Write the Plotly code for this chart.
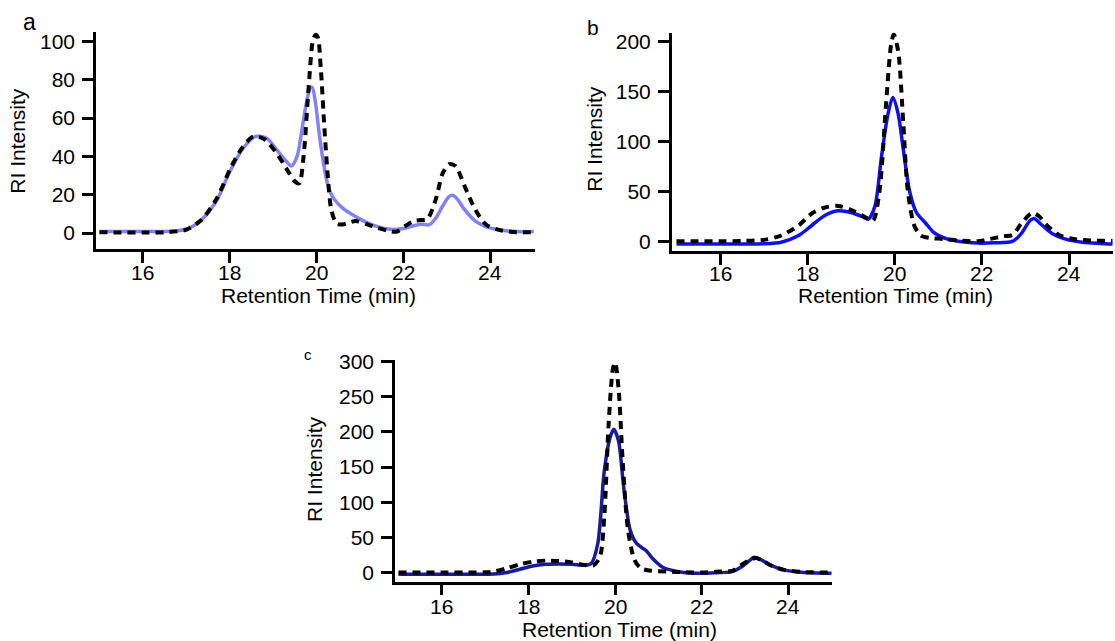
import plotly.graph_objects as go

# ---- panel a ----
a_t_dash = [15.0, 15.5, 16.0, 16.5, 17.0, 17.35, 17.7, 18.0, 18.3, 18.55, 18.8, 19.1, 19.35, 19.5,
            19.6, 19.7, 19.82, 19.92, 19.98, 20.03, 20.1, 20.18, 20.26, 20.34, 20.46, 20.6, 20.75,
            20.9, 21.15, 21.4, 21.7, 21.85, 22.05, 22.25, 22.4, 22.55, 22.75, 22.9, 23.05, 23.2,
            23.4, 23.65, 23.9, 24.2, 24.6, 25.0]
a_dash = [0.5, 0.3, 0.3, 0.4, 1.8, 7, 18, 33, 45, 50.5, 49, 41, 32, 27,
          26, 40, 77, 101, 103.5, 102, 85, 55, 29, 12, 5, 4.5, 5.5,
          6.3, 4.7, 2.7, 1.0, 0.8, 3.8, 6.4, 6.8, 7.3, 18, 31, 36, 35,
          25, 12.5, 4.5, 1.7, 0.5, 0.5]
a_t_solid = [15.0, 15.5, 16.0, 16.5, 17.0, 17.35, 17.7, 18.0, 18.3, 18.6, 18.85, 19.1, 19.3, 19.42,
             19.55, 19.65, 19.75, 19.85, 19.9, 19.98, 20.06, 20.15, 20.26, 20.38, 20.6, 20.9, 21.15,
             21.4, 21.7, 22.0, 22.2, 22.4, 22.6, 22.75, 22.9, 23.05, 23.13, 23.25, 23.4, 23.65,
             23.9, 24.2, 24.6, 25.0]
a_solid = [0.8, 0.8, 0.8, 0.9, 2.0, 7, 17, 32, 44, 50.5, 49.5, 43, 37.5, 35,
           40, 52, 66, 75.5, 76, 67, 52, 38, 25, 18.5, 13, 8.6, 5.6,
           3.4, 2.0, 2.4, 3.6, 4.6, 4.4, 8, 14, 19, 19.7, 17.5, 12.5, 6.4,
           3.4, 1.7, 0.8, 0.8]

# ---- panel b ----
b_t_dash = [15.0, 15.5, 16.0, 16.5, 17.0, 17.4, 17.8, 18.1, 18.4, 18.7, 19.0, 19.3, 19.5, 19.65,
            19.8, 19.92, 19.98, 20.08, 20.2, 20.3, 20.45, 20.6, 20.8, 21.1, 21.5, 21.9, 22.2, 22.5,
            22.7, 22.9, 23.15, 23.3, 23.5, 23.8, 24.1, 24.5, 25.0]
b_dash = [0.3, 0.3, 0.3, 0.5, 1.6, 6, 16, 28, 34, 35.6, 31.7, 25, 20.8, 49,
          135, 197, 207, 191, 118, 52, 16, 6, 3.6, 2.6, 1, 0.3, 2.6, 5.3,
          6.6, 17.5, 28.4, 25.7, 15.8, 6, 2.6, 1, 0.6]
b_t_solid = [15.0, 15.5, 16.0, 16.5, 17.0, 17.4, 17.8, 18.1, 18.4, 18.7, 19.0, 19.3, 19.4, 19.55,
             19.7, 19.85, 19.96, 20.08, 20.2, 20.35, 20.5, 20.7, 20.9, 21.2, 21.5, 21.9, 22.3, 22.7,
             22.9, 23.1, 23.2, 23.35, 23.6, 23.9, 24.3, 24.7, 25.0]
b_solid = [-2.6, -2.6, -2.6, -2.6, -2.3, -0.7, 6, 16, 26, 30.7, 29, 24, 22.4, 35.6,
           85, 128, 144, 128, 92, 49, 29, 19, 9, 2.6, 0, -1.6, -1.3, 0,
           7.6, 20.8, 23, 17.5, 8.3, 2.6, -0.7, -2, -2.6]

# ---- panel c ----
c_t_dash = [15.0, 15.5, 16.0, 16.5, 17.0, 17.2, 17.5, 17.8, 18.1, 18.4, 18.7, 19.0, 19.3, 19.5,
            19.65, 19.75, 19.85, 19.95, 20.0, 20.08, 20.18, 20.3, 20.45, 20.6, 20.8, 21.2, 21.6,
            22.0, 22.4, 22.7, 22.9, 23.1, 23.25, 23.4, 23.6, 23.9, 24.3, 25.0]
c_dash = [0, 0, 0, 0, 0.3, 1.4, 6, 11.7, 15.5, 17, 16.4, 14.5, 10.8, 10.3,
          22.5, 79, 210, 290, 299, 262, 154, 60, 17.8, 6, 2.8, 1.4, 0.5,
          0, 1.4, 2.3, 10, 17.8, 20.6, 17, 10, 3.8, 0.9, 0]
c_t_solid = [15.0, 15.5, 16.0, 16.5, 17.0, 17.2, 17.5, 17.8, 18.1, 18.4, 18.7, 19.0, 19.3, 19.45,
             19.6, 19.75, 19.88, 19.97, 20.08, 20.2, 20.35, 20.5, 20.7, 20.9, 21.1, 21.4, 21.8,
             22.2, 22.7, 22.9, 23.1, 23.2, 23.35, 23.6, 23.9, 24.3, 25.0]
c_solid = [-2.3, -2.3, -2.3, -2.3, -2.3, -2.2, 0, 4.7, 9.4, 11.7, 12.2, 11.7, 10.3, 13,
           41, 144, 191, 204, 187, 121, 60, 41, 32, 17.8, 7.5, 1.9, -0.9,
           -0.5, 1.4, 7.5, 17, 21.6, 18.8, 10.3, 3.8, 0.5, -0.9]

x_ticks = [16, 18, 20, 22, 24]
x_tick_labels = ["16", "18", "20", "22", "24"]
panel_labels = ["a", "b", "c"]
x_title = "Retention Time (min)"
y_title = "RI Intensity"

W, H = 1115, 641
FONT = "Liberation Sans, Arial, Helvetica, sans-serif"
FS = 21


def px(x):
    return x / W


def py(y):
    return 1 - y / H


panels = [
    dict(td=a_t_dash, vd=a_dash, ts=a_t_solid, vs=a_solid, color="#8282f2",
         xs=(96, 535), ys=(23.3, 244), xr=[14.92, 25.03], yr=[-8.2, 105], yt=[0, 20, 40, 60, 80, 100],
         xlab_y=268.5, xtitle=(318, 292), ytitle=(18, 134)),
    dict(td=b_t_dash, vd=b_dash, ts=b_t_solid, vs=b_solid, color="#1010ee",
         xs=(671.7, 1112.7), ys=(24, 246), xr=[14.89, 25.0], yr=[-9.3, 209], yt=[0, 50, 100, 150, 200],
         xlab_y=269.5, xtitle=(895, 292), ytitle=(595, 132)),
    dict(td=c_t_dash, vd=c_dash, ts=c_t_solid, vs=c_solid, color="#1a1a9c",
         xs=(395, 831.7), ys=(356.7, 582.7), xr=[14.92, 25.0], yr=[-13, 303], yt=[0, 50, 100, 150, 200, 250, 300],
         xlab_y=607.5, xtitle=(619, 631.5), ytitle=(315, 468)),
]

fig = go.Figure()
axis_common = dict(showgrid=False, zeroline=False, showline=True, linewidth=2.5, linecolor="black",
                   ticks="outside", ticklen=11, tickwidth=2.5, tickcolor="black",
                   tickfont=dict(family=FONT, size=FS, color="black"))
txt_font = dict(family=FONT, size=FS, color="black")
annotations = []

for i, p in enumerate(panels, start=1):
    sfx = "" if i == 1 else str(i)
    fig.add_trace(go.Scatter(x=p["ts"], y=p["vs"], mode="lines", xaxis="x" + sfx, yaxis="y" + sfx,
                             line=dict(color=p["color"], width=3.5, shape="spline", smoothing=0.8),
                             showlegend=False, hoverinfo="skip"))
    fig.add_trace(go.Scatter(x=p["td"], y=p["vd"], mode="lines", xaxis="x" + sfx, yaxis="y" + sfx,
                             line=dict(color="black", width=4, dash="8px,6px", shape="spline", smoothing=0.8),
                             showlegend=False, hoverinfo="skip"))
    fig.layout["xaxis" + sfx] = dict(axis_common, domain=[px(p["xs"][0]), px(p["xs"][1])],
                                     range=p["xr"], tickvals=x_ticks, anchor="y" + sfx,
                                     showticklabels=False)
    fig.layout["yaxis" + sfx] = dict(axis_common, domain=[py(p["ys"][1]), py(p["ys"][0])],
                                     range=p["yr"], tickvals=p["yt"], anchor="x" + sfx,
                                     ticklabelstandoff=3)
    # x tick labels, positioned on the data axis
    for tv, tl in zip(x_ticks, x_tick_labels):
        annotations.append(dict(text=tl, x=tv, xref="x" + sfx, y=py(p["xlab_y"]), yref="paper",
                                xanchor="center", yanchor="middle", showarrow=False, font=txt_font))
    # axis titles
    annotations.append(dict(text=x_title, x=px(p["xtitle"][0]), y=py(p["xtitle"][1]),
                            xref="paper", yref="paper", xanchor="center", yanchor="middle",
                            showarrow=False, font=txt_font))
    annotations.append(dict(text=y_title, x=px(p["ytitle"][0]), y=py(p["ytitle"][1]),
                            xref="paper", yref="paper", xanchor="center", yanchor="middle",
                            showarrow=False, textangle=-90, font=txt_font))

# panel letters
label_pos = [(29, 13, 23), (593, 19, 21), (308, 352, 15)]
for lab, (lx, ly, ls) in zip(panel_labels, label_pos):
    annotations.append(dict(text=lab, x=px(lx), y=py(ly), xref="paper", yref="paper",
                            xanchor="center", yanchor="middle", showarrow=False,
                            font=dict(family=FONT, size=ls, color="black")))

fig.update_layout(width=W, height=H, margin=dict(l=0, r=0, t=0, b=0),
                  paper_bgcolor="white", plot_bgcolor="white", annotations=annotations,
                  font=txt_font)

fig.write_html("out.html")
